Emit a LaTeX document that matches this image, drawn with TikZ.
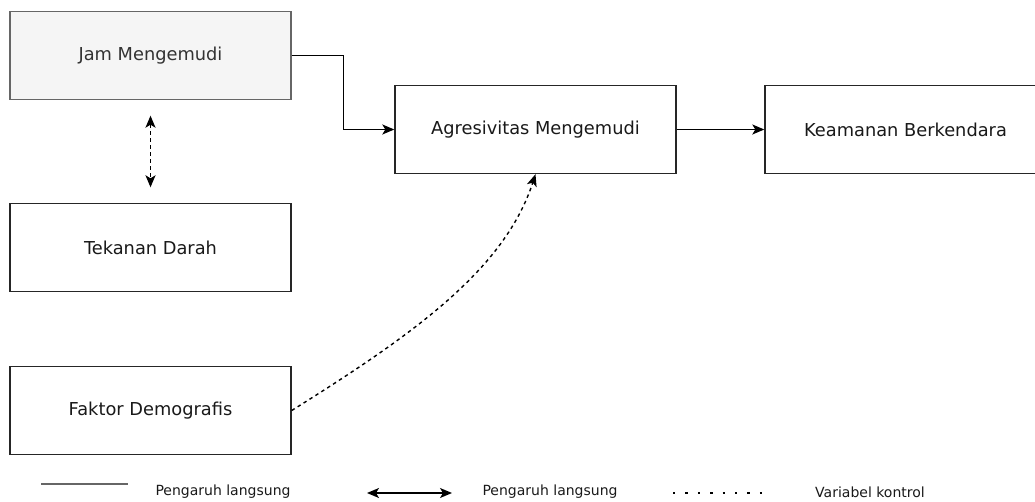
\documentclass[tikz,border=0pt]{standalone}
\usepackage{fontspec}
\setmainfont{DejaVu Sans}
\usetikzlibrary{arrows.meta}
\definecolor{boxgray}{HTML}{F5F5F5}
\definecolor{edgegray}{HTML}{666666}
\definecolor{txtgray}{HTML}{333333}
\begin{document}
\begin{tikzpicture}[x=1pt, y=-1pt,
    box/.style={draw=black!85, line width=1.4pt, minimum width=281pt, minimum height=88pt,
      inner sep=0pt, font=\fontsize{17.8}{21}\selectfont, text=black!90},
    jambox/.style={box, draw=edgegray, fill=boxgray, text=txtgray},
    arr/.style={-{Stealth[length=12pt, width=10pt, inset=3pt]}, line width=1.4pt},
    ctrl/.style={dash pattern=on 3.5pt off 3.5pt, line width=1.4pt},
    legend/.style={font=\fontsize{14}{16}\selectfont, text=black!90}]
  \useasboundingbox (0,0) rectangle (1035,502);
  % variables
  \node[jambox] (jam) at (150.5,55.5) {Jam Mengemudi};
  \node[box] (tek) at (150.5,247.5) {Tekanan Darah};
  \node[box] (fak) at (150.5,410.5) {Faktor Demografis};
  \node[box] (agr) at (535.5,129.5) {Agresivitas Mengemudi};
  \node[box] (kea) at (905.5,129.5) {Keamanan Berkendara};
  % connectors
  \draw[arr] (jam.east) -- ++(52,0) |- (agr.west);
  \draw[arr] (agr.east) -- (kea.west);
  \draw[ctrl, {Stealth[length=12pt, width=10pt, inset=3pt]}-{Stealth[length=12pt, width=10pt, inset=3pt]},
    shorten <=15.5pt, shorten >=15.5pt] (jam.south) -- (tek.north);
  \draw[arr, ctrl] (fak.east) .. controls +(32:145pt) and +(-108:100pt) .. (agr.south);
  % legend
  \draw[edgegray, line width=1.4pt] (41,484) -- (128,484);
  \node[legend] (lg1) at (223,492) {Pengaruh langsung};
  \draw[line width=1.4pt, {Stealth[length=12pt, width=10pt, inset=3pt]}-{Stealth[length=12pt, width=10pt, inset=3pt]}] (367,493) -- (452,493);
  \node[legend] (lg2) at (550,492) {Pengaruh langsung};
  \draw[line width=2.4pt, dash pattern=on 2.4pt off 10pt] (673,493) -- (762,493);
  \node[legend] (lg3) at (870,492) {Variabel kontrol};
\end{tikzpicture}
\end{document}
